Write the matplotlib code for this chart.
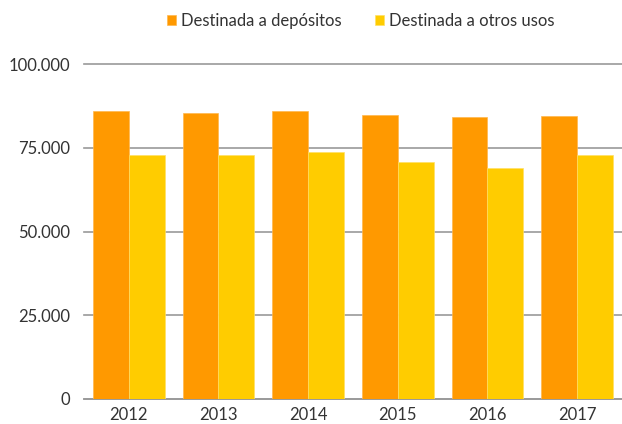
import matplotlib.pyplot as plt
import numpy as np

plt.rcParams['font.family'] = ['Lato', 'DejaVu Sans']

years = ['2012', '2013', '2014', '2015', '2016', '2017']
depositos = [85900, 85400, 86000, 84900, 84200, 84500]
otros_usos = [72800, 72800, 73800, 70700, 69000, 72800]

x = np.arange(len(years))
w = 0.4

fig = plt.figure(figsize=(6.22, 4.24), dpi=100)
ax = fig.add_axes([0.135, 0.059, 0.865, 0.79])

ax.bar(x - w/2, depositos, w, color='#FF9900', edgecolor='#FFB84D', linewidth=0.5,
       label='Destinada a depósitos', zorder=3)
ax.bar(x + w/2, otros_usos, w, color='#FFCC00', edgecolor='#FFE066', linewidth=0.5,
       label='Destinada a otros usos', zorder=3)

ax.set_xlim(-0.5, 5.5)
ax.set_ylim(0, 100000)
ax.set_xticks(x)
ax.set_xticklabels(years)
yt = [0, 25000, 50000, 75000, 100000]
ax.set_yticks(yt)
ax.set_yticklabels(['{:,}'.format(v).replace(',', '.') for v in yt])
ax.grid(axis='y', color='#999999', linewidth=1.2, zorder=0, clip_on=False)
for s in ['top', 'right', 'left']:
    ax.spines[s].set_visible(False)
ax.spines['bottom'].set_color('#999999')
ax.spines['bottom'].set_linewidth(1.2)
ax.tick_params(axis='both', length=0, labelsize=12, colors='#333333')
ax.tick_params(axis='y', pad=10)
ax.tick_params(axis='x', pad=6)

fig.legend(loc='center', bbox_to_anchor=(0.58, 0.95), ncol=2, frameon=False,
           fontsize=12, handlelength=0.55, handleheight=0.55, handletextpad=0.3,
           columnspacing=2.0, labelcolor='#333333')

plt.savefig('out.png', dpi=100)
